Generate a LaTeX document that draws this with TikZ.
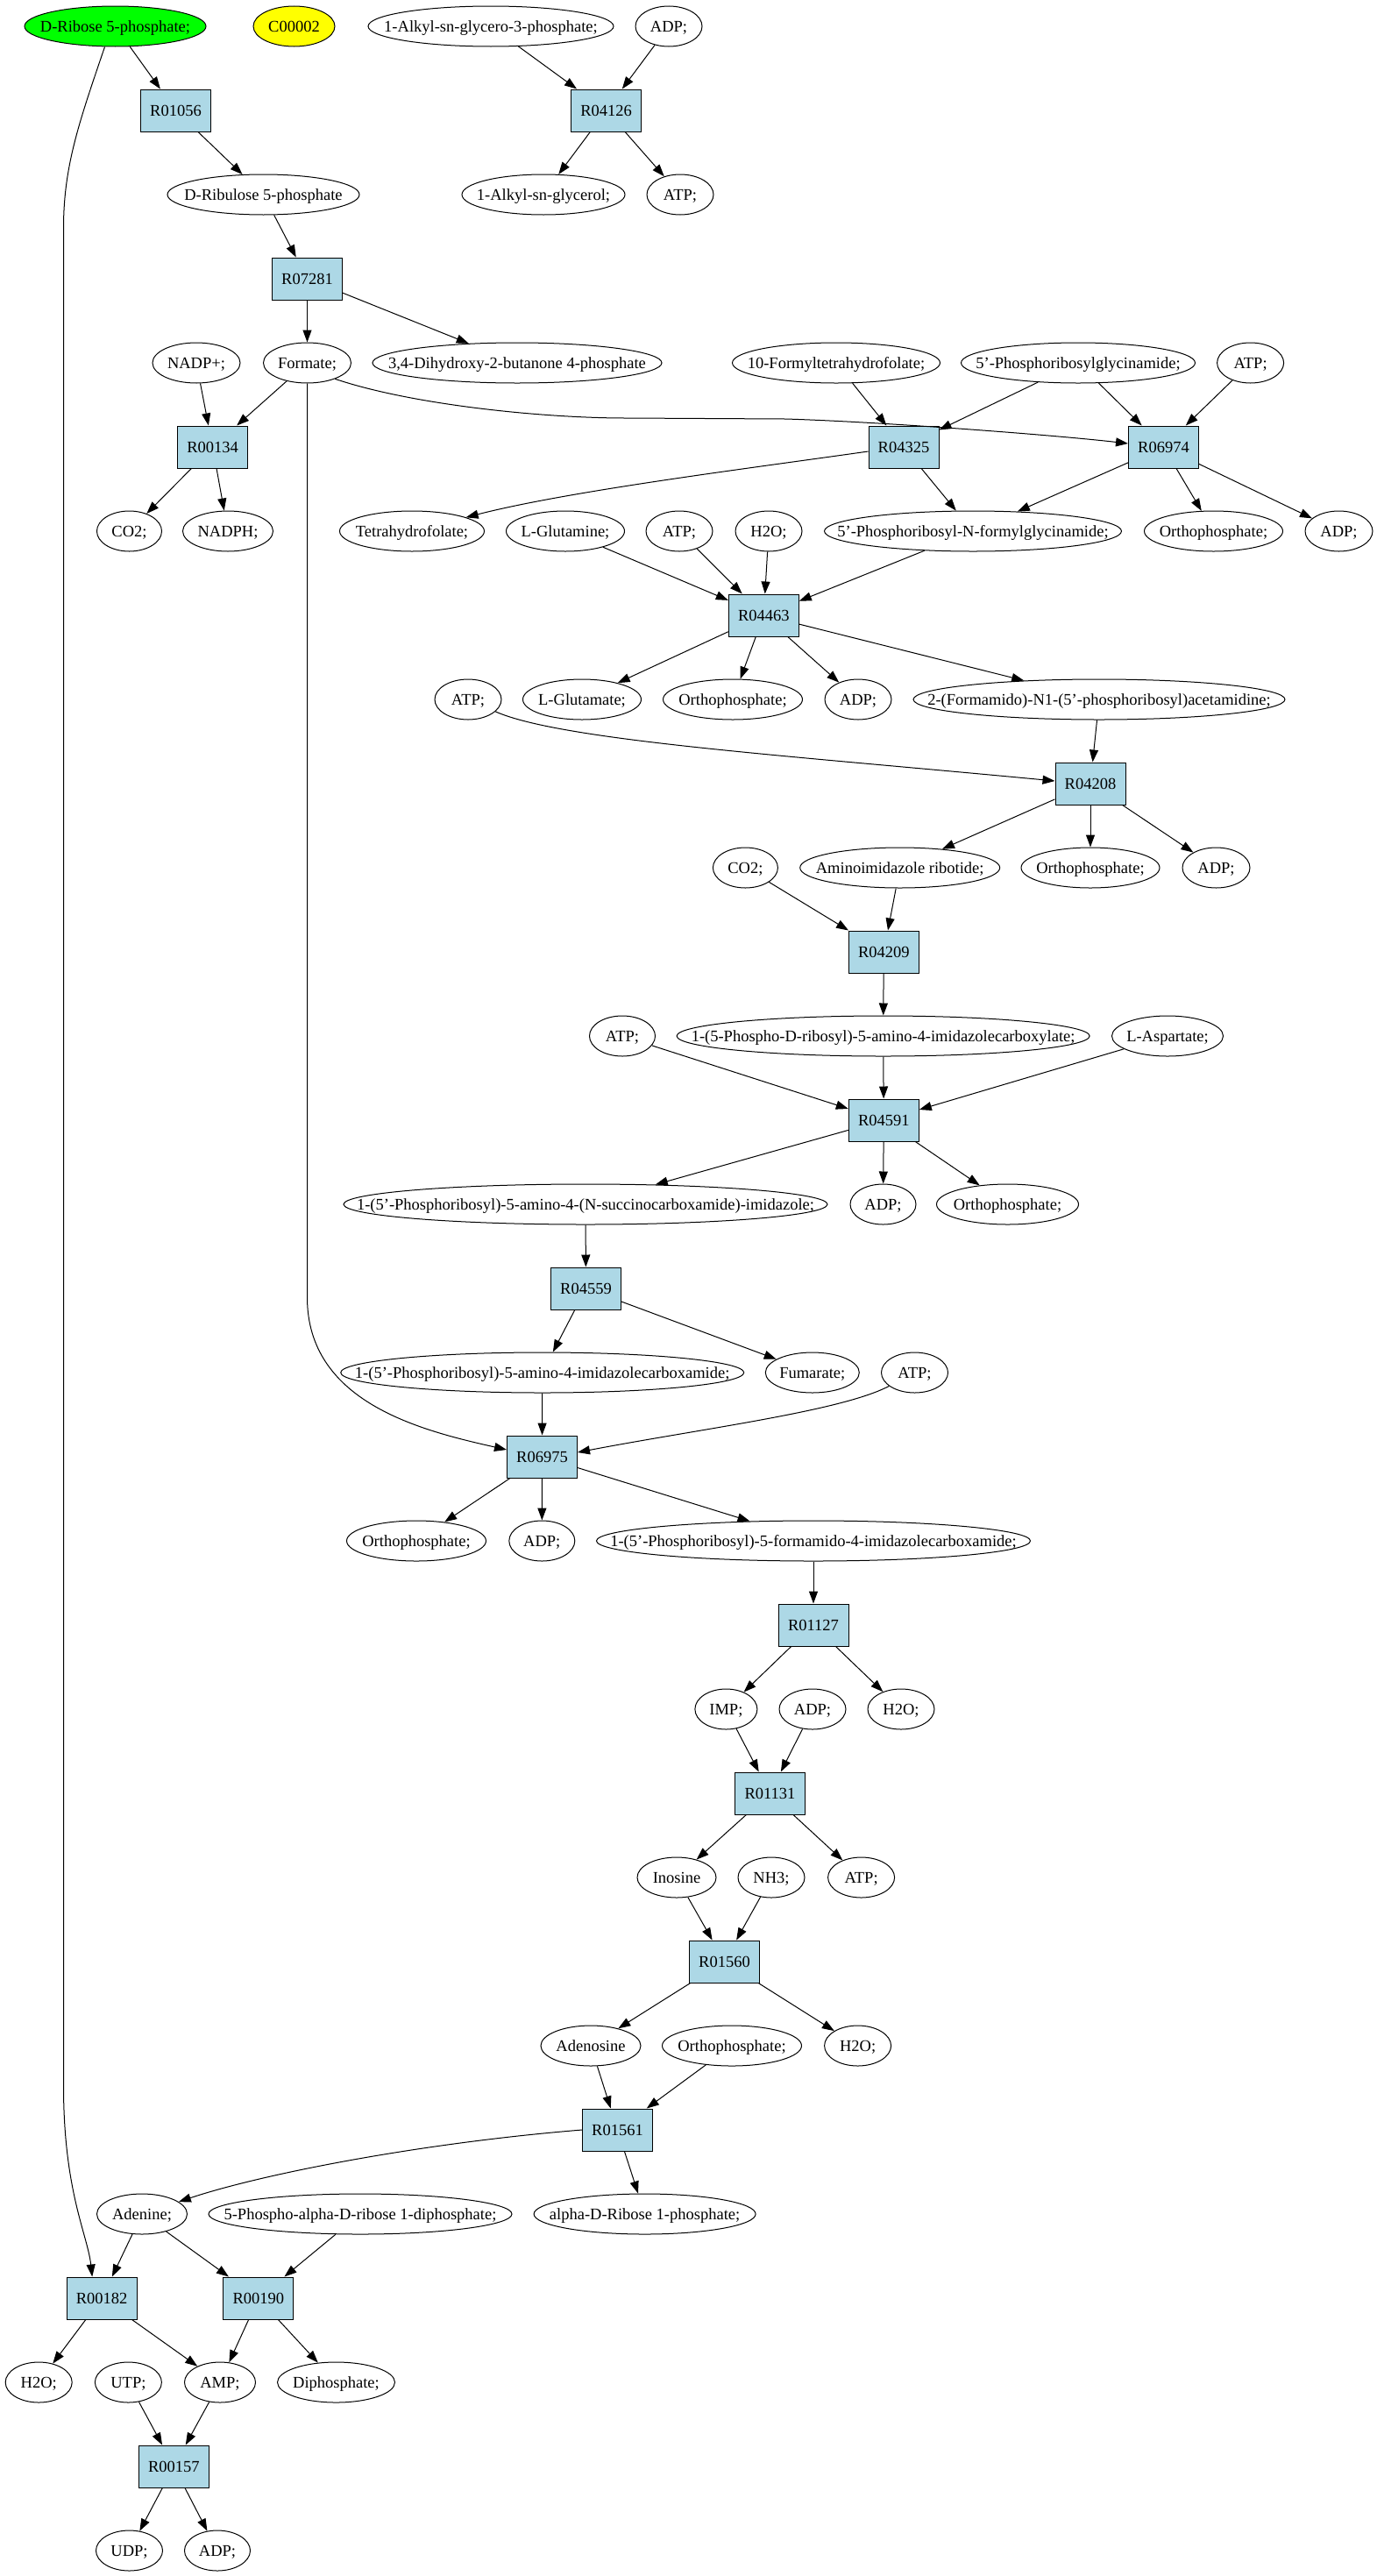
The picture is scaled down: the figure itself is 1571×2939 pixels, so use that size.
\documentclass[tikz,border=0pt]{standalone}
\usepackage{fontspec}
\setmainfont{Liberation Serif}
\usetikzlibrary{shapes.geometric,arrows.meta}
\definecolor{boxblue}{RGB}{173,216,230}
\definecolor{startgreen}{RGB}{0,255,0}
\definecolor{cyellow}{RGB}{255,255,0}
\newcommand{\nt}[1]{\makebox[0pt]{#1}}
\begin{document}
\begin{tikzpicture}[x=1pt,y=-1pt,
  every node/.style={font=\fontsize{18.5pt}{22pt}\selectfont, inner sep=0pt, text height=12.5pt, text depth=0pt},
  cpd/.style={draw, ellipse, line width=1pt, minimum height=46pt},
  rxn/.style={draw, rectangle, fill=boxblue, line width=1pt, minimum width=80pt, minimum height=48pt},
  conn/.style={line width=1pt, -{Triangle[length=14pt,width=10pt]}}
]
\useasboundingbox[fill=white] (0,0) rectangle (1571,2939);
% row 0
\node[cpd, fill=startgreen, minimum width=207pt] (ribose5p) at (131.5,30) {\nt{D-Ribose 5-phosphate;}};
\node[cpd, fill=cyellow, minimum width=93pt] (c00002) at (335.5,30) {\nt{C00002}};
\node[cpd, minimum width=280pt] (alkylgp) at (560,30) {\nt{1-Alkyl-sn-glycero-3-phosphate;}};
\node[cpd, minimum width=76pt] (adpA) at (763,30) {\nt{ADP;}};
% row 1
\node[rxn] (R01056) at (200.5,126) {R01056};
\node[rxn] (R04126) at (691.6,126) {R04126};
% row 2
\node[cpd, minimum width=219pt] (ribulose) at (300.5,222) {\nt{D-Ribulose 5-phosphate}};
\node[cpd, minimum width=186pt] (alkylg) at (620,222) {\nt{1-Alkyl-sn-glycerol;}};
\node[cpd, minimum width=76pt] (atpA) at (776,222) {\nt{ATP;}};
% row 3
\node[rxn] (R07281) at (350.5,318) {R07281};
% row 4
\node[cpd, minimum width=100pt] (nadp) at (224,414) {\nt{NADP+;}};
\node[cpd, minimum width=100pt] (formate) at (350.5,414) {\nt{Formate;}};
\node[cpd, minimum width=330pt] (dhbp) at (590,414) {\nt{3,4-Dihydroxy-2-butanone 4-phosphate}};
\node[cpd, minimum width=237pt] (fthf) at (954,414) {\nt{10-Formyltetrahydrofolate;}};
\node[cpd, minimum width=267pt] (gar) at (1230,414) {\nt{5'-Phosphoribosylglycinamide;}};
\node[cpd, minimum width=76pt] (atpB) at (1426.6,414) {\nt{ATP;}};
% row 5
\node[rxn] (R00134) at (242.6,510) {R00134};
\node[rxn] (R04325) at (1031,510) {R04325};
\node[rxn] (R06974) at (1327.5,510) {R06974};
% row 6
\node[cpd, minimum width=74pt] (co2A) at (147.5,606) {\nt{CO2;}};
\node[cpd, minimum width=103pt] (nadph) at (260,606) {\nt{NADPH;}};
\node[cpd, minimum width=165pt] (thf) at (470,606) {\nt{Tetrahydrofolate;}};
\node[cpd, minimum width=135pt] (glnA) at (645,606) {\nt{L-Glutamine;}};
\node[cpd, minimum width=76pt] (atpC) at (775,606) {\nt{ATP;}};
\node[cpd, minimum width=76pt] (h2oA) at (877,606) {\nt{H2O;}};
\node[cpd, minimum width=339pt] (fgar) at (1110,606) {\nt{5'-Phosphoribosyl-N-formylglycinamide;}};
\node[cpd, minimum width=158pt] (piA) at (1384.5,606) {\nt{Orthophosphate;}};
\node[cpd, minimum width=77pt] (adpB) at (1527.5,606) {\nt{ADP;}};
% row 7
\node[rxn] (R04463) at (871.3,702) {R04463};
% row 8
\node[cpd, minimum width=76pt] (atpD) at (534,798) {\nt{ATP;}};
\node[cpd, minimum width=135pt] (glu) at (664,798) {\nt{L-Glutamate;}};
\node[cpd, minimum width=159pt] (piB) at (836,798) {\nt{Orthophosphate;}};
\node[cpd, minimum width=76pt] (adpC) at (979,798) {\nt{ADP;}};
\node[cpd, minimum width=424pt] (fgam) at (1254,798) {\nt{2-(Formamido)-N1-(5'-phosphoribosyl)acetamidine;}};
% row 9
\node[rxn] (R04208) at (1244,894) {R04208};
% row 10
\node[cpd, minimum width=74pt] (co2B) at (850.4,990) {\nt{CO2;}};
\node[cpd, minimum width=228pt] (air) at (1026.7,990) {\nt{Aminoimidazole ribotide;}};
\node[cpd, minimum width=158pt] (piC) at (1244,990) {\nt{Orthophosphate;}};
\node[cpd, minimum width=77pt] (adpD) at (1387.5,990) {\nt{ADP;}};
% row 11
\node[rxn] (R04209) at (1008.3,1086) {R04209};
% row 12
\node[cpd, minimum width=75pt] (atpE) at (710,1182) {\nt{ATP;}};
\node[cpd, minimum width=471pt] (cair) at (1007.6,1182) {\nt{1-(5-Phospho-D-ribosyl)-5-amino-4-imidazolecarboxylate;}};
\node[cpd, minimum width=127pt] (asp) at (1332,1182) {\nt{L-Aspartate;}};
% row 13
\node[rxn] (R04591) at (1008.3,1278) {R04591};
% row 14
\node[cpd, minimum width=552pt] (saicar) at (668,1374) {\nt{1-(5'-Phosphoribosyl)-5-amino-4-(N-succinocarboxamide)-imidazole;}};
\node[cpd, minimum width=75pt] (adpE) at (1007.5,1374) {\nt{ADP;}};
\node[cpd, minimum width=162pt] (piD) at (1149.5,1374) {\nt{Orthophosphate;}};
% row 15
\node[rxn] (R04559) at (668.5,1470) {R04559};
% row 16
\node[cpd, minimum width=460pt] (aicar) at (618.7,1566) {\nt{1-(5'-Phosphoribosyl)-5-amino-4-imidazolecarboxamide;}};
\node[cpd, minimum width=107pt] (fum) at (926.8,1566) {\nt{Fumarate;}};
\node[cpd, minimum width=76pt] (atpF) at (1043.5,1566) {\nt{ATP;}};
% row 17
\node[rxn] (R06975) at (618.5,1662) {R06975};
% row 18
\node[cpd, minimum width=159pt] (piE) at (475,1758) {\nt{Orthophosphate;}};
\node[cpd, minimum width=75pt] (adpF) at (618.3,1758) {\nt{ADP;}};
\node[cpd, minimum width=495pt] (faicar) at (928,1758) {\nt{1-(5'-Phosphoribosyl)-5-formamido-4-imidazolecarboxamide;}};
% row 19
\node[rxn] (R01127) at (928,1854) {R01127};
% row 20
\node[cpd, minimum width=71pt] (imp) at (828.4,1950) {\nt{IMP;}};
\node[cpd, minimum width=76pt] (adpG) at (927,1950) {\nt{ADP;}};
\node[cpd, minimum width=76pt] (h2oB) at (1028,1950) {\nt{H2O;}};
% row 21
\node[rxn] (R01131) at (878.5,2046) {R01131};
% row 22
\node[cpd, minimum width=90pt] (ino) at (772,2142) {\nt{Inosine}};
\node[cpd, minimum width=76pt] (nh3) at (880,2142) {\nt{NH3;}};
\node[cpd, minimum width=76pt] (atpG) at (982.6,2142) {\nt{ATP;}};
% row 23
\node[rxn] (R01560) at (826.5,2238) {R01560};
% row 24
\node[cpd, minimum width=114pt] (ado) at (674,2334) {\nt{Adenosine}};
\node[cpd, minimum width=159pt] (piF) at (835,2334) {\nt{Orthophosphate;}};
\node[cpd, minimum width=76pt] (h2oC) at (978.6,2334) {\nt{H2O;}};
% row 25
\node[rxn] (R01561) at (704.5,2430) {R01561};
% row 26
\node[cpd, minimum width=103pt] (ade) at (162,2526) {\nt{Adenine;}};
\node[cpd, minimum width=346pt] (prpp) at (411,2526) {\nt{5-Phospho-alpha-D-ribose 1-diphosphate;}};
\node[cpd, minimum width=253pt] (r1p) at (735.6,2526) {\nt{alpha-D-Ribose 1-phosphate;}};
% row 27
\node[rxn] (R00182) at (116.2,2622) {R00182};
\node[rxn] (R00190) at (294.8,2622) {R00190};
% row 28
\node[cpd, minimum width=76pt] (h2oD) at (44.2,2718) {\nt{H2O;}};
\node[cpd, minimum width=76pt] (utp) at (146.4,2718) {\nt{UTP;}};
\node[cpd, minimum width=81pt] (amp) at (251,2718) {\nt{AMP;}};
\node[cpd, minimum width=134pt] (ppi) at (383.5,2718) {\nt{Diphosphate;}};
% row 29
\node[rxn] (R00157) at (198.3,2814) {R00157};
% row 30
\node[cpd, minimum width=76pt] (udp) at (147.5,2910) {\nt{UDP;}};
\node[cpd, minimum width=75pt] (adpH) at (248,2910) {\nt{ADP;}};

% edges
\draw[conn] (ribose5p) -- (R01056);
\draw[conn] ([xshift=-12pt]ribose5p.south) .. controls (90,140) and (72.5,190) .. (72.5,260) -- (72.5,2380) .. controls (72.5,2500) and (100,2550) .. ([xshift=-11pt]R00182.north);
\draw[conn] (alkylgp) -- (R04126);
\draw[conn] (adpA) -- (R04126);
\draw[conn] (R04126) -- (alkylg);
\draw[conn] (R04126) -- (atpA);
\draw[conn] (R01056) -- (ribulose);
\draw[conn] (ribulose) -- (R07281);
\draw[conn] (R07281) -- (formate);
\draw[conn] (R07281) -- (dhbp);
\draw[conn] (nadp) -- (R00134);
\draw[conn] (formate) -- (R00134);
\draw[conn] (formate.-30) .. controls (470,462) and (620,477) .. (714,477) -- (896,478) .. controls (1000,481) and (1200,496) .. ([yshift=4pt]R06974.west);
\draw[conn] (formate.south) -- (350.5,1480) .. controls (350.5,1600) and (480,1632) .. ([yshift=8pt]R06975.west);
\draw[conn] (R00134) -- (co2A);
\draw[conn] (R00134) -- (nadph);
\draw[conn] (fthf) -- (R04325);
\draw[conn] (gar) -- (R04325);
\draw[conn] (gar) -- (R06974);
\draw[conn] (atpB) -- (R06974);
\draw[conn] ([yshift=-5pt]R04325.west) .. controls (850,535) and (650,560) .. (thf);
\draw[conn] (R04325) -- (fgar);
\draw[conn] (R06974) -- (fgar);
\draw[conn] (R06974) -- (piA);
\draw[conn] (R06974) -- (adpB);
\draw[conn] (glnA) -- (R04463);
\draw[conn] (atpC) -- (R04463);
\draw[conn] (h2oA) -- (R04463);
\draw[conn] (fgar) -- (R04463);
\draw[conn] (R04463) -- (glu);
\draw[conn] (R04463) -- (piB);
\draw[conn] (R04463) -- (adpC);
\draw[conn] (R04463) -- (fgam);
\draw[conn] (atpD) .. controls (640,845) and (900,862) .. ([yshift=3pt]R04208.west);
\draw[conn] (fgam) -- (R04208);
\draw[conn] (R04208) -- (air);
\draw[conn] (R04208) -- (piC);
\draw[conn] (R04208) -- (adpD);
\draw[conn] (co2B) -- (R04209);
\draw[conn] (air) -- (R04209);
\draw[conn] (R04209) -- (cair);
\draw[conn] (atpE) -- (R04591);
\draw[conn] (cair) -- (R04591);
\draw[conn] (asp) -- (R04591);
\draw[conn] (R04591) -- (saicar);
\draw[conn] (R04591) -- (adpE);
\draw[conn] (R04591) -- (piD);
\draw[conn] (saicar) -- (R04559);
\draw[conn] (R04559) -- (aicar);
\draw[conn] (R04559) -- (fum);
\draw[conn] (aicar) -- (R06975);
\draw[conn] (atpF) .. controls (960,1610) and (800,1630) .. ([yshift=5pt]R06975.east);
\draw[conn] (R06975) -- (piE);
\draw[conn] (R06975) -- (adpF);
\draw[conn] (R06975) -- (faicar);
\draw[conn] (faicar) -- (R01127);
\draw[conn] (R01127) -- (imp);
\draw[conn] (R01127) -- (h2oB);
\draw[conn] (imp) -- (R01131);
\draw[conn] (adpG) -- (R01131);
\draw[conn] (R01131) -- (ino);
\draw[conn] (R01131) -- (atpG);
\draw[conn] (ino) -- (R01560);
\draw[conn] (nh3) -- (R01560);
\draw[conn] (R01560) -- (ado);
\draw[conn] (R01560) -- (h2oC);
\draw[conn] (ado) -- (R01561);
\draw[conn] (piF) -- (R01561);
\draw[conn] (R01561.west) .. controls (480,2445) and (300,2480) .. (ade);
\draw[conn] (R01561) -- (r1p);
\draw[conn] (ade) -- (R00182);
\draw[conn] (ade) -- (R00190);
\draw[conn] (prpp) -- (R00190);
\draw[conn] (R00182) -- (h2oD);
\draw[conn] (R00182) -- (amp);
\draw[conn] (R00190) -- (amp);
\draw[conn] (R00190) -- (ppi);
\draw[conn] (utp) -- (R00157);
\draw[conn] (amp) -- (R00157);
\draw[conn] (R00157) -- (udp);
\draw[conn] (R00157) -- (adpH);
\end{tikzpicture}
\end{document}
